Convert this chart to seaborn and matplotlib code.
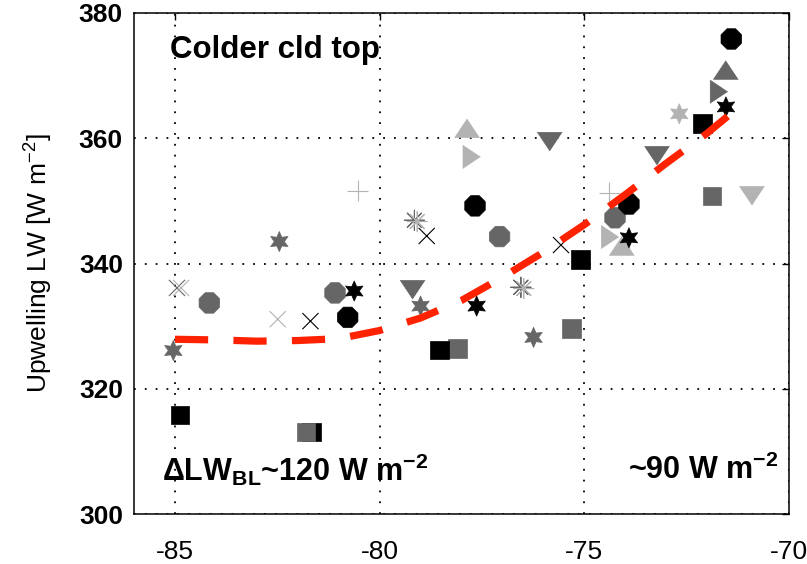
import numpy as np
import pandas as pd
import matplotlib
matplotlib.use("Agg")
import matplotlib.pyplot as plt
import seaborn as sns

# ---------------- data ----------------
# filled markers, listed in drawing order
pt_x = [-77.86, -77.75, -74.37, -74.08, -70.90, -72.68,
        -81.66, -81.80, -85.04, -84.16, -82.45, -81.09, -79.19, -79.00,
        -77.07, -78.10, -76.24, -75.31, -75.84, -74.25, -73.22, -71.88,
        -71.71, -71.54,
        -84.88, -80.78, -80.62, -77.67, -77.63, -78.54, -75.09, -73.91,
        -73.91, -72.12, -71.54, -71.41]
pt_y = [361.6, 357.0, 344.2, 342.8, 350.8, 363.9,
        313.1, 313.1, 326.1, 333.7, 343.5, 335.3, 335.8, 333.2,
        344.3, 326.45, 328.2, 329.65, 359.45, 347.3, 357.2, 350.8,
        367.4, 370.9,
        315.8, 331.4, 335.6, 349.2, 333.2, 326.2, 340.6, 349.5,
        344.1, 362.4, 365.0, 375.85]
pt_shape = ["tri_up", "tri_right", "tri_right", "tri_up", "tri_down", "hexagram",
            "square", "square", "hexagram", "octagon", "hexagram", "octagon",
            "tri_down", "hexagram", "octagon", "square", "hexagram", "square",
            "tri_down", "octagon", "tri_down", "square", "tri_right", "tri_up",
            "square", "octagon", "hexagram", "octagon", "hexagram", "square",
            "square", "octagon", "hexagram", "square", "hexagram", "octagon"]
pt_shade = ["light", "light", "light", "light", "light", "light",
            "black", "dark", "dark", "dark", "dark", "dark", "dark", "dark",
            "dark", "dark", "dark", "dark", "dark", "dark", "dark", "dark",
            "dark", "dark",
            "black", "black", "black", "black", "black", "black", "black",
            "black", "black", "black", "black", "black"]

# line-art markers
ln_x = [-84.95, -84.85, -82.49, -81.69, -78.85, -75.57,
        -80.53, -74.39,
        -79.15, -79.08, -76.55, -76.48]
ln_y = [336.1, 336.1, 331.1, 330.8, 344.4, 342.95,
        351.6, 351.3,
        346.9, 346.7, 336.2, 336.0]
ln_shape = ["cross", "cross", "cross", "cross", "cross", "cross",
            "plus", "plus",
            "asterisk", "asterisk", "asterisk", "asterisk"]
ln_shade = ["dark", "light", "light", "black", "black", "black",
            "light", "light",
            "dark", "light", "dark", "light"]

# dashed red fit curve
fit_x = [-85, -84, -83, -82, -81, -80, -79, -78, -77, -76, -75, -74, -73, -72, -71.5]
fit_y = [327.9, 327.8, 327.6, 327.7, 328.0, 329.3, 331.3, 334.1, 337.8,
         341.8, 346.2, 351.0, 356.0, 360.8, 363.5]

x_ticks = [-85, -80, -75, -70]
y_ticks = [300, 320, 340, 360, 380]

# ---------------- styling ----------------
sns.set_theme(style="white")
plt.rcParams["font.family"] = ["Liberation Sans", "DejaVu Sans"]
plt.rcParams["mathtext.fontset"] = "custom"
plt.rcParams["mathtext.rm"] = "Liberation Sans"
plt.rcParams["mathtext.bf"] = "Liberation Sans:bold"
plt.rcParams["mathtext.it"] = "Liberation Sans:italic"
plt.rcParams["text.color"] = "black"
plt.rcParams["axes.labelcolor"] = "black"
plt.rcParams["xtick.color"] = "black"
plt.rcParams["ytick.color"] = "black"
plt.rcParams["xtick.labelcolor"] = "black"
plt.rcParams["ytick.labelcolor"] = "black"

shade_pal = {"light": "#B3B3B3", "dark": "#666666", "black": "#000000"}

tri_up = np.array([(0, 0.75), (-1, -0.75), (1, -0.75)])
tri_down = np.array([(0, -0.75), (-1, 0.75), (1, 0.75)])
tri_right = np.array([(0.75, 0), (-0.75, 1), (-0.75, -1)])

fill_markers = {"tri_up": tri_up, "tri_down": tri_down, "tri_right": tri_right,
                "hexagram": (6, 1, 0), "octagon": "8", "square": "s"}
fill_sizes = {"tri_up": 320, "tri_down": 320, "tri_right": 280,
              "hexagram": 210, "octagon": 255, "square": 180}
line_markers = {"cross": "x", "plus": "+", "asterisk": (8, 2, 0)}
line_sizes = {"cross": 135, "plus": 230, "asterisk": 210}

df_fill = pd.DataFrame({"x": pt_x, "y": pt_y, "shape": pt_shape, "shade": pt_shade})
df_line = pd.DataFrame({"x": ln_x, "y": ln_y, "shape": ln_shape, "shade": ln_shade})
df_fit = pd.DataFrame({"x": fit_x, "y": fit_y})

fig = plt.figure(figsize=(8.07, 5.64), dpi=100)
ax = fig.add_axes([134 / 807, 50 / 564, 655 / 807, 501 / 564])

sns.scatterplot(data=df_line, x="x", y="y", hue="shade", style="shape",
                size="shape", palette=shade_pal, markers=line_markers,
                sizes=line_sizes, linewidth=0.8, legend=False, ax=ax, zorder=3)
sns.scatterplot(data=df_fill, x="x", y="y", hue="shade", style="shape",
                size="shape", palette=shade_pal, markers=fill_markers,
                sizes=fill_sizes, edgecolor="face", linewidth=0.5,
                legend=False, ax=ax, zorder=4)
sns.lineplot(data=df_fit, x="x", y="y", color="#FF2200", linewidth=5.2,
             sort=False, estimator=None, ax=ax, zorder=5)
fit_line = ax.lines[-1]
fit_line.set_dashes((4.6, 3.5))
fit_line.set_dash_capstyle("butt")

ax.set_xlim(-86, -70)
ax.set_ylim(300, 380)
ax.set_xticks(x_ticks)
ax.set_yticks(y_ticks)
ax.set_xticklabels([str(v) for v in x_ticks], fontsize=19)
ax.set_yticklabels([str(v) for v in y_ticks], fontsize=19, fontweight="bold")
ax.tick_params(direction="in", length=5, width=1, top=True, right=True,
               color="black")
ax.tick_params(axis="x", pad=19)
ax.tick_params(axis="y", pad=8)
ax.grid(True, color="black", linestyle=(0, (1, 5)), linewidth=1.3)
for sp in ax.spines.values():
    sp.set_visible(True)
    sp.set_color("black")
    sp.set_linewidth(1.1)

ax.set_xlabel("")
ax.set_ylabel("Upwelling LW [W m$^{-2}$]", fontsize=19, color="black")
ax.yaxis.set_label_coords(-0.12, 0.5)

ax.text(-85.12, 374.1, "Colder cld top", fontsize=22.5, fontweight="bold",
        ha="left", va="center", zorder=6, color="black")
ax.text(-85.32, 307.0, r"$\mathbf{\Delta}$LW$_{\mathbf{BL}}$~120 W m$^{\mathbf{-2}}$",
        fontsize=22, fontweight="bold", ha="left", va="center", zorder=6,
        color="black")
ax.text(-70.25, 307.0, r"~90 W m$^{\mathbf{-2}}$", fontsize=22,
        fontweight="bold", ha="right", va="center", zorder=6, color="black")

fig.savefig("out.png", dpi=100)
